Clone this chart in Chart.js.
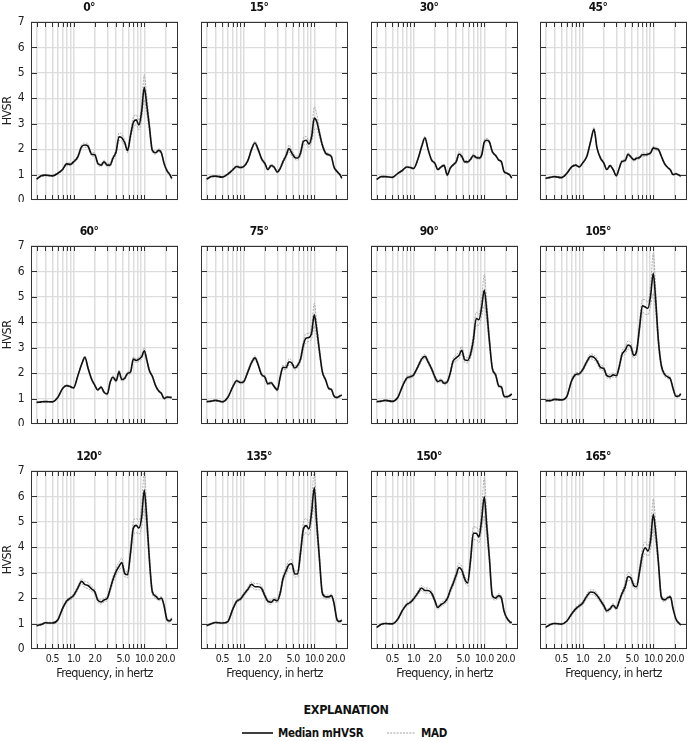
<!DOCTYPE html>
<html>
<head>
<meta charset="utf-8">
<script src="https://cdn.jsdelivr.net/npm/chart.js@4.4.1/dist/chart.umd.min.js"></script>
<style>
  body { margin: 0; background: #fff; width: 690px; height: 741px; position: relative; overflow: hidden;
         font-family: "DejaVu Sans Condensed", "DejaVu Sans", sans-serif; font-stretch: condensed; color: #111; }
  canvas { position: absolute; }
  .expl { position: absolute; left: 0; width: 692px; top: 702px; text-align: center; font-weight: bold; font-size: 12.5px; letter-spacing: -0.3px; }
  .leg { position: absolute; top: 726px; font-weight: bold; font-size: 11.5px; line-height: 14px; letter-spacing: -0.3px; }
  .legline { position: absolute; }
</style>
</head>
<body>
<div class="expl">EXPLANATION</div>
<svg class="legline" style="left:242px;top:729px" width="32" height="8"><line x1="0" y1="4" x2="31" y2="4" stroke="#111" stroke-width="1.6"/></svg>
<div class="leg" style="left:278px">Median mHVSR</div>
<svg class="legline" style="left:387px;top:729px" width="30" height="8"><line x1="0" y1="4" x2="28" y2="4" stroke="#8a8a8a" stroke-width="0.8" stroke-dasharray="2,1.2"/></svg>
<div class="leg" style="left:421px">MAD</div>
<script>
var FONT = '"DejaVu Sans Condensed", "DejaVu Sans", sans-serif';

// frequencies, in hertz
var freq = [0.3, 0.35, 0.4, 0.5, 0.6, 0.7, 0.8, 0.9, 1.0, 1.15, 1.3, 1.45, 1.6, 1.8, 2.0, 2.2, 2.45, 2.7, 3.0, 3.3,
            3.6, 4.0, 4.4, 4.8, 5.3, 5.8, 6.4, 7.0, 7.7, 8.4, 9.2, 10, 10.8, 11.8, 13, 14.5, 16, 17.5, 19, 21, 23, 24.5];

var titles = ['0°', '15°', '30°', '45°', '60°', '75°', '90°', '105°', '120°', '135°', '150°', '165°'];

// median mHVSR by azimuth
var hvsr000 = [0.82,0.95,0.98,0.95,1.05,1.20,1.42,1.40,1.50,1.70,2.10,2.16,2.12,1.80,1.78,1.44,1.37,1.50,1.37,1.38,1.64,1.90,2.49,2.45,2.25,1.94,2.55,3.05,3.15,2.95,3.50,4.43,3.78,2.90,1.95,1.86,1.95,1.85,1.45,1.15,1.00,0.85];
var hvsr015 = [0.82,0.92,0.94,0.90,1.02,1.18,1.32,1.28,1.31,1.55,2.00,2.24,2.00,1.62,1.44,1.20,1.35,1.30,1.10,1.24,1.50,1.75,2.02,1.85,1.68,1.65,1.85,2.30,2.35,2.20,2.50,3.22,3.10,2.65,2.16,1.84,1.78,1.70,1.30,1.12,1.00,0.86];
var hvsr030 = [0.81,0.92,0.92,0.89,1.05,1.17,1.30,1.28,1.24,1.60,2.10,2.45,2.00,1.57,1.45,1.20,1.30,1.36,0.98,1.25,1.37,1.50,1.81,1.72,1.50,1.50,1.60,1.75,1.67,1.65,1.77,2.28,2.35,2.29,1.90,1.75,1.57,1.50,1.12,1.05,0.98,0.86];
var hvsr045 = [0.85,0.89,0.92,0.88,1.05,1.30,1.37,1.30,1.45,1.72,2.30,2.78,2.05,1.64,1.45,1.20,1.35,1.20,0.96,1.25,1.52,1.55,1.80,1.70,1.58,1.64,1.67,1.78,1.78,1.80,1.86,2.05,2.02,1.99,1.72,1.42,1.28,1.18,1.00,1.03,0.98,0.94];
var hvsr060 = [0.85,0.87,0.88,0.87,1.05,1.40,1.51,1.47,1.42,1.90,2.35,2.62,2.20,1.76,1.52,1.34,1.45,1.25,1.18,1.65,1.84,1.70,2.05,1.75,1.80,1.99,2.05,2.55,2.50,2.55,2.65,2.88,2.55,2.10,1.88,1.50,1.30,1.20,1.00,1.06,1.05,1.04];
var hvsr075 = [0.88,0.90,0.93,0.87,1.05,1.45,1.70,1.63,1.66,2.05,2.42,2.60,2.35,1.94,1.85,1.58,1.62,1.48,1.34,1.85,2.23,2.22,2.45,2.40,2.20,2.30,2.55,3.10,3.38,3.40,3.60,4.29,3.75,2.90,2.06,1.73,1.40,1.35,1.10,1.04,1.10,1.14];
var hvsr090 = [0.88,0.90,0.93,0.89,1.05,1.50,1.80,1.86,1.93,2.25,2.55,2.66,2.45,2.17,1.85,1.67,1.72,1.60,1.66,2.00,2.45,2.60,2.70,2.90,2.52,2.50,2.75,3.30,4.15,4.10,4.60,5.27,4.50,3.30,2.19,1.93,1.50,1.45,1.10,1.07,1.12,1.18];
var hvsr105 = [0.92,0.92,0.97,0.95,1.09,1.70,1.95,1.98,2.13,2.45,2.66,2.62,2.48,2.22,2.18,1.90,1.86,1.93,1.90,2.25,2.72,2.90,3.10,3.05,2.70,2.85,3.80,4.65,4.60,4.55,5.08,5.93,4.90,3.30,2.30,1.95,1.85,1.77,1.41,1.09,1.10,1.19];
var hvsr120 = [0.92,0.96,1.03,1.02,1.15,1.60,1.89,2.00,2.10,2.40,2.66,2.53,2.50,2.36,2.25,1.92,1.85,1.93,2.00,2.36,2.72,3.05,3.25,3.40,2.97,2.92,3.80,4.75,4.86,4.76,5.20,6.25,5.20,3.55,2.25,2.08,1.96,2.00,1.72,1.15,1.10,1.19];
var hvsr135 = [0.92,0.99,1.04,1.02,1.08,1.55,1.88,1.96,2.13,2.35,2.54,2.45,2.45,2.38,2.10,1.88,1.84,1.94,1.90,2.20,2.75,3.08,3.32,3.35,2.95,2.95,3.80,4.70,4.85,4.72,5.40,6.35,5.00,3.60,2.20,2.05,2.05,2.10,1.80,1.15,1.08,1.14];
var hvsr150 = [0.85,0.97,1.00,0.99,1.18,1.53,1.75,1.83,1.97,2.20,2.40,2.30,2.30,2.19,1.90,1.63,1.75,1.82,1.98,2.30,2.55,2.90,3.20,3.10,2.75,2.60,3.50,4.55,4.55,4.40,5.10,5.99,4.90,3.60,2.10,2.00,2.10,2.00,1.50,1.20,1.07,1.03];
var hvsr165 = [0.85,0.96,1.00,0.98,1.10,1.38,1.58,1.70,1.80,2.08,2.24,2.22,2.10,1.90,1.70,1.50,1.58,1.72,1.60,1.88,2.17,2.45,2.85,2.80,2.50,2.45,3.05,3.70,3.98,3.85,4.30,5.30,4.61,3.43,2.05,1.93,2.02,2.05,1.60,1.17,1.02,0.95];

// median absolute deviation by azimuth
var mad000 = [0.03,0.03,0.03,0.03,0.03,0.04,0.05,0.05,0.05,0.06,0.08,0.08,0.08,0.07,0.07,0.06,0.06,0.07,0.06,0.07,0.08,0.10,0.15,0.14,0.10,0.08,0.12,0.20,0.20,0.18,0.30,0.50,0.35,0.20,0.08,0.06,0.06,0.06,0.05,0.05,0.04,0.04];
var mad015 = [0.03,0.03,0.03,0.03,0.03,0.04,0.04,0.04,0.04,0.05,0.07,0.08,0.07,0.06,0.06,0.05,0.06,0.05,0.05,0.06,0.07,0.08,0.14,0.12,0.08,0.08,0.10,0.14,0.15,0.13,0.20,0.45,0.30,0.15,0.07,0.06,0.05,0.05,0.05,0.04,0.04,0.04];
var mad030 = [0.02,0.02,0.02,0.02,0.02,0.03,0.03,0.03,0.03,0.04,0.05,0.06,0.05,0.04,0.04,0.04,0.04,0.04,0.04,0.04,0.05,0.05,0.10,0.06,0.05,0.05,0.05,0.06,0.05,0.05,0.06,0.08,0.07,0.06,0.05,0.04,0.04,0.04,0.03,0.03,0.03,0.03];
var mad045 = [0.02,0.02,0.02,0.02,0.02,0.03,0.03,0.03,0.03,0.04,0.05,0.08,0.05,0.04,0.04,0.04,0.04,0.04,0.04,0.04,0.05,0.05,0.06,0.05,0.05,0.05,0.05,0.06,0.06,0.05,0.05,0.06,0.06,0.05,0.04,0.04,0.04,0.03,0.03,0.03,0.03,0.03];
var mad060 = [0.02,0.02,0.02,0.02,0.02,0.03,0.03,0.03,0.03,0.04,0.05,0.06,0.05,0.05,0.04,0.04,0.04,0.04,0.04,0.05,0.06,0.06,0.08,0.06,0.06,0.06,0.07,0.08,0.08,0.08,0.09,0.12,0.08,0.06,0.05,0.04,0.04,0.04,0.03,0.03,0.03,0.03];
var mad075 = [0.02,0.02,0.03,0.03,0.03,0.04,0.05,0.05,0.05,0.06,0.07,0.08,0.07,0.06,0.06,0.05,0.05,0.05,0.05,0.06,0.08,0.08,0.12,0.10,0.08,0.08,0.10,0.15,0.18,0.15,0.25,0.45,0.30,0.15,0.07,0.06,0.05,0.05,0.04,0.04,0.04,0.04];
var mad090 = [0.02,0.02,0.03,0.03,0.03,0.05,0.06,0.06,0.06,0.07,0.08,0.08,0.08,0.07,0.07,0.06,0.06,0.06,0.06,0.08,0.10,0.12,0.14,0.15,0.10,0.10,0.15,0.22,0.25,0.22,0.35,0.60,0.40,0.20,0.08,0.07,0.06,0.05,0.05,0.04,0.04,0.04];
var mad105 = [0.03,0.03,0.03,0.03,0.04,0.06,0.06,0.06,0.07,0.08,0.10,0.10,0.10,0.09,0.08,0.08,0.08,0.08,0.08,0.10,0.12,0.14,0.16,0.15,0.12,0.12,0.18,0.25,0.28,0.25,0.40,0.80,0.45,0.22,0.10,0.08,0.07,0.06,0.06,0.05,0.05,0.05];
var mad120 = [0.03,0.03,0.03,0.03,0.04,0.06,0.06,0.06,0.07,0.08,0.10,0.12,0.12,0.10,0.09,0.08,0.08,0.08,0.08,0.10,0.12,0.14,0.16,0.18,0.12,0.12,0.18,0.25,0.28,0.25,0.40,0.75,0.45,0.22,0.10,0.08,0.07,0.06,0.06,0.05,0.05,0.05];
var mad135 = [0.03,0.03,0.03,0.03,0.04,0.06,0.06,0.06,0.07,0.08,0.10,0.12,0.12,0.10,0.09,0.08,0.08,0.08,0.08,0.10,0.12,0.14,0.16,0.16,0.12,0.12,0.18,0.25,0.28,0.25,0.40,0.70,0.45,0.22,0.10,0.08,0.07,0.06,0.06,0.05,0.05,0.05];
var mad150 = [0.03,0.03,0.03,0.03,0.04,0.05,0.06,0.06,0.07,0.08,0.10,0.10,0.10,0.09,0.08,0.08,0.08,0.08,0.08,0.10,0.12,0.14,0.16,0.15,0.12,0.12,0.18,0.25,0.25,0.22,0.40,0.75,0.45,0.22,0.10,0.08,0.07,0.06,0.06,0.05,0.05,0.05];
var mad165 = [0.03,0.03,0.03,0.03,0.04,0.05,0.06,0.06,0.07,0.08,0.09,0.10,0.09,0.08,0.08,0.07,0.07,0.07,0.07,0.09,0.10,0.12,0.15,0.14,0.10,0.10,0.15,0.22,0.22,0.20,0.35,0.60,0.40,0.20,0.09,0.07,0.06,0.06,0.05,0.05,0.04,0.04];

var medians = [hvsr000, hvsr015, hvsr030, hvsr045, hvsr060, hvsr075, hvsr090, hvsr105, hvsr120, hvsr135, hvsr150, hvsr165];
var mads = [mad000, mad015, mad030, mad045, mad060, mad075, mad090, mad105, mad120, mad135, mad150, mad165];

// axis ticks
var xTicks = [0.3, 0.4, 0.5, 0.6, 0.7, 0.8, 0.9, 1, 2, 3, 4, 5, 6, 7, 8, 9, 10, 20];
var xTickLabels = { '0.5': '0.5', '1': '1.0', '2': '2.0', '5': '5.0', '10': '10.0', '20': '20.0' };
var yTicks = [0, 1, 2, 3, 4, 5, 6, 7];

// panel placement
var colLeft = [31, 201, 371, 540];
var rowTop = [22, 246, 471];
var plotW = 147, plotH = 178, padL = 31, padR = 4, padT = 22;

// tighter text, closer to the condensed face of the original
var tightText = {
    id: 'tightText',
    beforeDraw: function (chart) { chart.ctx.letterSpacing = '-0.6px'; }
};

var framePlugin = {
    id: 'frame',
    afterDraw: function (chart) {
        var ctx = chart.ctx, a = chart.chartArea;
        var xs = chart.scales.x, ys = chart.scales.y;
        ctx.save();
        ctx.strokeStyle = '#333';
        ctx.lineWidth = 1;
        ctx.beginPath();
        xTicks.forEach(function (t) {
            var px = Math.round(xs.getPixelForValue(t)) + 0.5;
            ctx.moveTo(px, a.top); ctx.lineTo(px, a.top + 5);
            ctx.moveTo(px, a.bottom); ctx.lineTo(px, a.bottom - 5);
        });
        yTicks.slice(1, 7).forEach(function (v) {
            var py = Math.round(ys.getPixelForValue(v)) + 0.5;
            ctx.moveTo(a.left, py); ctx.lineTo(a.left + 6, py);
            ctx.moveTo(a.right, py); ctx.lineTo(a.right - 6, py);
        });
        ctx.stroke();
        ctx.strokeRect(a.left + 0.5, a.top + 0.5, a.right - a.left - 1, a.bottom - a.top - 1);
        ctx.restore();
    }
};

function toPoints(vals) {
    return freq.map(function (f, i) { return { x: f, y: vals[i] }; });
}

for (var i = 0; i < 12; i++) {
    var row = Math.floor(i / 4), col = i % 4;
    var bottomRow = row === 2, firstCol = col === 0;
    var xH = bottomRow ? 36 : 2;
    var med = medians[i], mad = mads[i];
    var upper = med.map(function (v, k) { return v + mad[k]; });
    var lower = med.map(function (v, k) { return v - mad[k]; });

    var cv = document.createElement('canvas');
    cv.width = padL + plotW + padR;
    cv.height = padT + plotH + xH;
    cv.style.left = (colLeft[col] - padL) + 'px';
    cv.style.top = (rowTop[row] - padT) + 'px';
    document.body.appendChild(cv);

    (function (xH, bottomRow, firstCol) {
        new Chart(cv.getContext('2d'), {
            type: 'line',
            data: {
                datasets: [
                    { label: 'MAD', data: toPoints(upper), borderColor: '#8c8c8c', borderWidth: 0.7, borderDash: [2, 1.2],
                      pointRadius: 0, cubicInterpolationMode: 'monotone', order: 2 },
                    { label: 'MAD', data: toPoints(lower), borderColor: '#8c8c8c', borderWidth: 0.7, borderDash: [2, 1.2],
                      pointRadius: 0, cubicInterpolationMode: 'monotone', order: 1 },
                    { label: 'Median mHVSR', data: toPoints(med), borderColor: '#111', borderWidth: 1.6,
                      pointRadius: 0, cubicInterpolationMode: 'monotone', order: 0 }
                ]
            },
            options: {
                responsive: false,
                animation: false,
                events: [],
                layout: { padding: { left: 0, right: padR, top: 0, bottom: 0 } },
                plugins: {
                    legend: { display: false },
                    tooltip: { enabled: false },
                    title: { display: true, text: titles[i], color: '#111',
                             font: { family: FONT, size: 12, weight: 'bold condensed', lineHeight: '14px' },
                             padding: { top: 1, bottom: 7 } }
                },
                scales: {
                    x: {
                        type: 'logarithmic', min: 0.25, max: 30,
                        afterBuildTicks: function (s) { s.ticks = xTicks.map(function (v) { return { value: v }; }); },
                        afterFit: function (s) { s.height = xH; s.paddingLeft = 0; s.paddingRight = 0; },
                        grid: { color: '#dddddd', lineWidth: 1.5, drawTicks: false },
                        border: { display: false },
                        ticks: { display: bottomRow, autoSkip: false, maxRotation: 0, padding: 4, color: '#222',
                                 font: { family: FONT, size: 10.5, weight: 'normal condensed' },
                                 callback: function (v) { return xTickLabels[String(v)] || ''; } },
                        title: { display: bottomRow, text: 'Frequency, in hertz', color: '#222',
                                 font: { family: FONT, size: 12.5, weight: 'normal condensed', lineHeight: '14px' },
                                 padding: { top: 0, bottom: 4 } }
                    },
                    y: {
                        min: 0, max: 7,
                        afterBuildTicks: function (s) { s.ticks = yTicks.map(function (v) { return { value: v }; }); },
                        afterFit: function (s) { s.width = padL; s.paddingTop = 0; s.paddingBottom = 0; },
                        grid: { color: '#dddddd', lineWidth: 1.2, drawTicks: false },
                        border: { display: false },
                        ticks: { display: firstCol, padding: 7, color: '#222',
                                 font: { family: FONT, size: 12, weight: 'normal condensed' } },
                        title: { display: firstCol, text: 'HVSR', color: '#222',
                                 font: { family: FONT, size: 12.5, weight: 'normal condensed', lineHeight: '14px' },
                                 padding: { top: 1, bottom: 0 } }
                    }
                }
            },
            plugins: [tightText, framePlugin]
        });
    })(xH, bottomRow, firstCol);
}
</script>
</body>
</html>
